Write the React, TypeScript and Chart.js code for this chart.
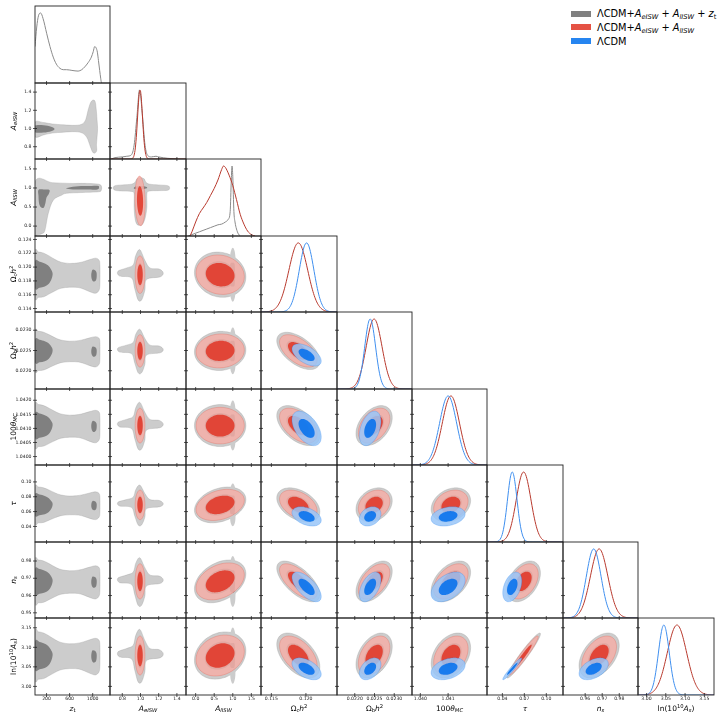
import React, { useEffect, useRef } from "react";
import { Chart, registerables } from "chart.js";

Chart.register(...registerables);

const FONT = "'DejaVu Sans', 'Liberation Sans', sans-serif";

// ---------------- axes (order: z_t, A_eISW, A_lISW, Ωch², Ωbh², 100θMC, τ, ns, ln(10^10 As)) ----------------
const PARAM_MIN = [0, 0.665, -0.26, 0.1135, 0.02155, 1.0397, 0.019, 0.947, 2.978];
const PARAM_MAX = [1300, 1.5, 1.76, 0.1245, 0.02345, 1.0424, 0.1228, 0.991, 3.175];

const X_TICKS = [
  [200, 600, 1000], [0.8, 1.0, 1.2, 1.4], [0.0, 0.5, 1.0, 1.5], [0.115, 0.12],
  [0.022, 0.0225, 0.023], [1.04, 1.041], [0.04, 0.07, 0.1], [0.96, 0.97, 0.98], [3.0, 3.05, 3.1, 3.15],
];
const X_TICK_LABELS = [
  ["200", "600", "1000"], ["0.8", "1.0", "1.2", "1.4"], ["0.0", "0.5", "1.0", "1.5"], ["0.115", "0.120"],
  ["0.0220", "0.0225", "0.0230"], ["1.040", "1.041"], ["0.04", "0.07", "0.10"], ["0.96", "0.97", "0.98"],
  ["3.00", "3.05", "3.10", "3.15"],
];
const Y_TICKS = [
  [], [0.8, 1.0, 1.2, 1.4], [0.0, 0.5, 1.0, 1.5], [0.114, 0.116, 0.118, 0.12, 0.122, 0.124],
  [0.022, 0.0225, 0.023], [1.04, 1.0405, 1.041, 1.0415, 1.042], [0.04, 0.06, 0.08, 0.1],
  [0.95, 0.96, 0.97, 0.98], [3.0, 3.05, 3.1, 3.15],
];
const Y_TICK_LABELS = [
  [], ["0.8", "1.0", "1.2", "1.4"], ["0.0", "0.5", "1.0", "1.5"],
  ["0.114", "0.116", "0.118", "0.120", "0.122", "0.124"], ["0.0220", "0.0225", "0.0230"],
  ["1.0400", "1.0405", "1.0410", "1.0415", "1.0420"], ["0.04", "0.06", "0.08", "0.10"],
  ["0.95", "0.96", "0.97", "0.98"], ["3.00", "3.05", "3.10", "3.15"],
];

type Seg = { t: string; it?: boolean; sub?: boolean; sup?: boolean };
const AXIS_TITLES: Seg[][] = [
  [{ t: "z", it: true }, { t: "t", sub: true }],
  [{ t: "A", it: true }, { t: "eISW", it: true, sub: true }],
  [{ t: "A", it: true }, { t: "lISW", it: true, sub: true }],
  [{ t: "Ω" }, { t: "c", sub: true }, { t: "h", it: true }, { t: "2", sup: true }],
  [{ t: "Ω" }, { t: "b", sub: true }, { t: "h", it: true }, { t: "2", sup: true }],
  [{ t: "100" }, { t: "θ", it: true }, { t: "MC", it: true, sub: true }],
  [{ t: "τ", it: true }],
  [{ t: "n", it: true }, { t: "s", it: true, sub: true }],
  [{ t: "ln(10" }, { t: "10", sup: true }, { t: "A", it: true }, { t: "s", it: true, sub: true }, { t: ")" }],
];

const LEGEND_LABELS: Seg[][] = [
  [{ t: "ΛCDM+" }, { t: "A", it: true }, { t: "eISW", it: true, sub: true }, { t: " + " }, { t: "A", it: true }, { t: "lISW", it: true, sub: true }, { t: " + " }, { t: "z", it: true }, { t: "t", sub: true }],
  [{ t: "ΛCDM+" }, { t: "A", it: true }, { t: "eISW", it: true, sub: true }, { t: " + " }, { t: "A", it: true }, { t: "lISW", it: true, sub: true }],
  [{ t: "ΛCDM" }],
];

// ---------------- posterior summaries (mean, sd) ----------------
const GRAY_MEAN = [null, 0.995, 0.66, 0.1189, 0.02249, 1.0411, 0.069, 0.9682, 3.079];
const GRAY_SD = [null, 0.03, 0.33, 0.00156, 0.00023, 0.000355, 0.0115, 0.0059, 0.0288];
const RED_MEAN = [null, 0.995, 0.66, 0.1189, 0.02249, 1.0411, 0.069, 0.9682, 3.079];
const RED_SD = [null, 0.027, 0.31, 0.00136, 0.0002, 0.00031, 0.01, 0.0051, 0.025];
const BLUE_MEAN = [null, null, null, 0.1201, 0.02239, 1.041, 0.0535, 0.965, 3.045];
const BLUE_SD = [null, null, null, 0.00106, 0.000137, 0.000307, 0.0065, 0.0043, 0.014];

// correlation coefficients [row param, column param, rho]
const CORR: [number, number, number][] = [
  [2, 1, -0.1],
  [3, 2, -0.1], [4, 2, 0.05], [5, 2, 0.0], [6, 2, 0.3], [7, 2, 0.35], [8, 2, 0.2],
  [4, 3, -0.55], [5, 3, -0.5], [6, 3, -0.4], [7, 3, -0.65], [8, 3, -0.5],
  [5, 4, 0.4], [6, 4, 0.25], [7, 4, 0.5], [8, 4, 0.4],
  [6, 5, 0.25], [7, 5, 0.45], [8, 5, 0.35],
  [7, 6, 0.4], [8, 6, 0.96],
  [8, 7, 0.45],
];

// ---------------- 1D marginals ----------------
const ZT_GRAY_X = [0, 30, 60, 98, 140, 202, 260, 316, 370, 431, 490, 547, 640, 747, 810, 862, 920, 977, 1010, 1034, 1060, 1081, 1100, 1121, 1140, 1150, 1160];
const ZT_GRAY_Y = [0.52, 0.8, 0.96, 1.0, 0.92, 0.71, 0.52, 0.37, 0.27, 0.21, 0.19, 0.19, 0.18, 0.17, 0.19, 0.23, 0.29, 0.37, 0.45, 0.52, 0.5, 0.44, 0.32, 0.18, 0.06, 0.01, 0];
const AE_GRAY_X = [0.68, 0.72, 0.8, 0.85, 0.9, 0.93, 0.96, 0.99, 1.02, 1.05, 1.08, 1.12, 1.17, 1.2, 1.3, 1.4];
const AE_GRAY_Y = [0, 0.02, 0.03, 0.04, 0.06, 0.2, 0.6, 1.0, 0.65, 0.2, 0.05, 0.03, 0.04, 0.03, 0.01, 0];
const AL_GRAY_X = [-0.2, -0.1, 0.0, 0.1, 0.2, 0.3, 0.4, 0.5, 0.6, 0.7, 0.8, 0.88, 0.93, 0.96, 0.98, 1.0, 1.03, 1.06, 1.1, 1.15, 1.2];
const AL_GRAY_Y = [0, 0.02, 0.04, 0.06, 0.08, 0.1, 0.12, 0.14, 0.16, 0.17, 0.2, 0.24, 0.35, 0.8, 1.0, 0.85, 0.35, 0.2, 0.1, 0.03, 0];
const AL_RED_X = [-0.15, -0.1, 0, 0.1, 0.2, 0.3, 0.4, 0.5, 0.6, 0.7, 0.75, 0.8, 0.9, 1.0, 1.1, 1.2, 1.3, 1.4, 1.5, 1.6];
const AL_RED_Y = [0, 0.06, 0.2, 0.32, 0.4, 0.48, 0.58, 0.68, 0.8, 0.95, 1.0, 0.98, 0.87, 0.72, 0.52, 0.31, 0.17, 0.07, 0.02, 0];

// ---------------- irregular gray contours ----------------
type P = [number, number];
const GRAY_ZT_AE_OUTER: P[] = [[0, 1.07], [150, 1.065], [300, 1.05], [500, 1.04], [700, 1.035], [820, 1.05], [880, 1.1], [920, 1.2], [960, 1.28], [1000, 1.31], [1040, 1.3], [1060, 1.22], [1075, 1.1], [1085, 1.0], [1075, 0.9], [1065, 0.82], [1070, 0.76], [1040, 0.73], [1000, 0.74], [960, 0.8], [900, 0.9], [820, 0.95], [700, 0.965], [500, 0.96], [300, 0.95], [150, 0.93], [0, 0.91]];
const GRAY_ZT_AE_INNER: P[] = [[0, 1.03], [150, 1.035], [280, 1.02], [340, 0.995], [280, 0.97], [150, 0.955], [0, 0.96]];
const GRAY_ZT_AL_OUTER: P[] = [[0, 1.16], [300, 1.14], [600, 1.12], [900, 1.12], [1100, 1.1], [1150, 1.05], [1150, 0.95], [1100, 0.9], [800, 0.88], [546, 0.86], [460, 0.81], [316, 0.68], [230, 0.33], [172, -0.11], [120, -0.2], [40, -0.22], [0, -0.2]];
const GRAY_ZT_AL_INNER_A: P[] = [[60, 0.95], [150, 0.96], [250, 0.95], [240, 0.85], [200, 0.75], [180, 0.6], [150, 0.48], [100, 0.5], [70, 0.6], [60, 0.8]];
const GRAY_ZT_AL_INNER_B: P[] = [[550, 1.0], [700, 1.04], [900, 1.05], [1080, 1.06], [1110, 1.02], [1080, 0.96], [900, 0.96], [700, 0.96], [560, 0.98]];
// z_t vs cosmological parameters (y in gray standard deviations from the gray mean)
const GRAY_ZT_STD_OUTER: P[] = [[0, 2.05], [60, 2.1], [150, 2.0], [250, 1.72], [350, 1.4], [450, 1.16], [600, 1.04], [750, 1.1], [850, 1.23], [950, 1.4], [1050, 1.53], [1110, 1.35], [1125, 0.84], [1125, -0.84], [1110, -1.44], [1050, -1.72], [950, -1.58], [850, -1.35], [750, -1.19], [600, -1.16], [450, -1.26], [350, -1.49], [250, -1.77], [150, -2.05], [60, -2.1], [0, -2.05]];
const GRAY_ZT_STD_INNER_L: P[] = [[0, 1.21], [80, 1.21], [170, 1.04], [240, 0.79], [295, 0.33], [305, 0], [285, -0.42], [240, -0.84], [170, -1.1], [80, -1.21], [0, -1.21]];
const GRAY_ZT_STD_INNER_R: P[] = [[1000, 0.47], [1040, 0.42], [1065, 0.23], [1070, -0.09], [1060, -0.47], [1030, -0.63], [1000, -0.58], [980, -0.33], [975, 0], [985, 0.33]];
const GRAY_AE_AL_OUTER: P[] = [[0.72, 1.06], [0.8, 1.08], [0.9, 1.1], [0.94, 1.15], [0.96, 1.24], [1.0, 1.27], [1.04, 1.24], [1.06, 1.15], [1.1, 1.1], [1.2, 1.08], [1.3, 1.06], [1.32, 1.0], [1.3, 0.94], [1.2, 0.93], [1.1, 0.92], [1.07, 0.85], [1.07, 0.5], [1.05, 0.2], [1.02, 0.04], [0.99, 0.02], [0.96, 0.05], [0.94, 0.2], [0.93, 0.5], [0.93, 0.85], [0.9, 0.91], [0.8, 0.92], [0.72, 0.94], [0.7, 1.0]];
const GRAY_AE_AL_INNER: P[] = [[0.94, 1.03], [1.0, 1.05], [1.06, 1.03], [1.07, 0.99], [1.0, 0.96], [0.93, 0.98]];
// A_eISW vs cosmological parameters (y standardized)
const GRAY_AE_STD_OUTER: P[] = [[0.993, 2.32], [1.048, 1.34], [1.104, 0.62], [1.206, 0.52], [1.25, 0.16], [1.214, -0.21], [1.067, -0.43], [1.048, -1.45], [1.012, -2.35], [0.974, -2.35], [0.937, -1.31], [0.9, -0.28], [0.771, -0.13], [0.752, 0.32], [0.846, 0.62], [0.92, 0.91], [0.948, 1.79]];
// A_lISW vs cosmological parameters: spike and strip at A_lISW ~ 1 (y standardized)
const GRAY_AL_STD_SPIKE: P[] = [[0.93, 1.7], [0.96, 2.3], [1.0, 2.5], [1.04, 2.3], [1.07, 1.7], [1.08, 0], [1.07, -1.7], [1.04, -2.3], [1.0, -2.5], [0.96, -2.3], [0.93, -1.7], [0.92, 0]];
const GRAY_AL_STD_STRIP: P[] = [[0.93, 0.95], [1.0, 1.1], [1.05, 0.95], [1.06, 0], [1.05, -0.95], [1.0, -1.1], [0.93, -0.95], [0.92, 0]];

// ---------------- styling ----------------
const MODELS = [
  { mean: GRAY_MEAN, sd: GRAY_SD, inner: "rgb(128,128,128)", outer: "rgb(204,204,204)", edge: "rgba(150,150,150,0.5)", line: "#8a8a8a" },
  { mean: RED_MEAN, sd: RED_SD, inner: "rgba(224,52,36,0.85)", outer: "rgba(243,174,167,0.85)", edge: "rgba(224,52,36,0.35)", line: "#b8392d" },
  { mean: BLUE_MEAN, sd: BLUE_SD, inner: "rgba(0,111,237,0.85)", outer: "rgba(153,197,248,0.85)", edge: "rgba(0,111,237,0.35)", line: "#3f8fef" },
];

const N = 9;
const X_EDGES = Array.from({ length: N + 1 }, (_, k) => Math.round(35 + k * 75.4));
const Y_EDGES = Array.from({ length: N + 1 }, (_, k) => Math.round(6 + k * 76.55));

// contour radii (in sd units) of the inner and outer filled levels
function radii(row: number, col: number): [number, number] {
  return row === 2 || col === 2 ? [1.25, 2.1] : [1.1, 2.0];
}

function corr(a: number, b: number) {
  for (const [i, j, r] of CORR) if ((i === a && j === b) || (i === b && j === a)) return r;
  return 0;
}

function ellipse(mx: number, my: number, sx: number, sy: number, rho: number, r: number): P[] {
  const pts: P[] = [];
  const c = Math.sqrt(1 - rho * rho);
  for (let k = 0; k < 48; k++) {
    const t = (2 * Math.PI * k) / 48;
    const u = r * Math.cos(t);
    const w = r * Math.sin(t);
    pts.push([mx + sx * u, my + sy * (rho * u + c * w)]);
  }
  return pts;
}

function gaussCurve(m: number, s: number, lo: number, hi: number) {
  const out: { x: number; y: number }[] = [];
  for (let k = 0; k <= 120; k++) {
    const x = lo + ((hi - lo) * k) / 120;
    out.push({ x, y: Math.exp(-0.5 * ((x - m) / s) ** 2) });
  }
  return out;
}

function zip(xs: number[], ys: number[]) {
  return xs.map((x, i) => ({ x, y: ys[i] }));
}

function buildDatasets(row: number, col: number) {
  const ds: any[] = [];
  if (row === col) {
    const lines: { data: { x: number; y: number }[]; m: number }[] = [];
    if (col === 0) lines.push({ data: zip(ZT_GRAY_X, ZT_GRAY_Y), m: 0 });
    else if (col === 1) {
      lines.push({ data: zip(AE_GRAY_X, AE_GRAY_Y), m: 0 });
      lines.push({ data: gaussCurve(RED_MEAN[1]!, RED_SD[1]!, PARAM_MIN[1], PARAM_MAX[1]), m: 1 });
    } else if (col === 2) {
      lines.push({ data: zip(AL_GRAY_X, AL_GRAY_Y), m: 0 });
      lines.push({ data: zip(AL_RED_X, AL_RED_Y), m: 1 });
    } else {
      for (let m = 1; m < 3; m++) {
        const md = MODELS[m];
        lines.push({ data: gaussCurve(md.mean[col]!, md.sd[col]!, PARAM_MIN[col], PARAM_MAX[col]), m });
      }
    }
    for (const l of lines) {
      ds.push({
        type: "line",
        data: l.data,
        yAxisID: "yd",
        borderColor: MODELS[l.m].line,
        borderWidth: 1,
        pointRadius: 0,
        fill: false,
        cubicInterpolationMode: "monotone",
        order: 3 - l.m,
      });
    }
    return ds;
  }
  const [rIn, rOut] = radii(row, col);
  const poly = (pts: P[], fill: string, edge?: string) =>
    ds.push({ type: "scatter", data: pts.map(([x, y]) => ({ x, y })), pointRadius: 0, showLine: false, polyFill: fill, polyEdge: edge });
  const std = (pts: P[]) => pts.map(([x, v]) => [x, GRAY_MEAN[row]! + v * GRAY_SD[row]!] as P);
  const g = MODELS[0];
  if (col === 0) {
    if (row === 1) {
      poly(GRAY_ZT_AE_OUTER, g.outer, g.edge);
      poly(GRAY_ZT_AE_INNER, g.inner);
    } else if (row === 2) {
      poly(GRAY_ZT_AL_OUTER, g.outer, g.edge);
      poly(GRAY_ZT_AL_INNER_A, g.inner);
      poly(GRAY_ZT_AL_INNER_B, g.inner);
    } else {
      poly(std(GRAY_ZT_STD_OUTER), g.outer, g.edge);
      poly(std(GRAY_ZT_STD_INNER_L), g.inner);
      poly(std(GRAY_ZT_STD_INNER_R), g.inner);
    }
  } else if (col === 1 && row === 2) {
    poly(GRAY_AE_AL_OUTER, g.outer, g.edge);
    poly(GRAY_AE_AL_INNER, g.inner);
  } else {
    const rho = corr(row, col);
    const eOut = ellipse(g.mean[col]!, g.mean[row]!, g.sd[col]!, g.sd[row]!, rho, rOut);
    const eIn = ellipse(g.mean[col]!, g.mean[row]!, g.sd[col]!, g.sd[row]!, rho, rIn);
    if (col === 1) {
      poly(std(GRAY_AE_STD_OUTER), g.outer, g.edge);
      poly(eIn, g.inner);
    } else if (col === 2) {
      poly(eOut, g.outer, g.edge);
      poly(std(GRAY_AL_STD_SPIKE), g.outer);
      poly(eIn, g.inner);
      poly(std(GRAY_AL_STD_STRIP), g.inner);
    } else {
      poly(eOut, g.outer, g.edge);
      poly(eIn, g.inner);
    }
  }
  for (let m = 1; m < 3; m++) {
    const md = MODELS[m];
    if (md.mean[col] == null || md.mean[row] == null) continue;
    const rho = corr(row, col);
    poly(ellipse(md.mean[col]!, md.mean[row]!, md.sd[col]!, md.sd[row]!, rho, rOut), md.outer, md.edge);
    poly(ellipse(md.mean[col]!, md.mean[row]!, md.sd[col]!, md.sd[row]!, rho, rIn), md.inner);
  }
  return ds;
}

function closedPath(ctx: CanvasRenderingContext2D, p: P[]) {
  const n = p.length;
  ctx.moveTo(p[0][0], p[0][1]);
  for (let i = 0; i < n; i++) {
    const p0 = p[(i - 1 + n) % n], p1 = p[i], p2 = p[(i + 1) % n], p3 = p[(i + 2) % n];
    ctx.bezierCurveTo(
      p1[0] + (p2[0] - p0[0]) / 6, p1[1] + (p2[1] - p0[1]) / 6,
      p2[0] - (p3[0] - p1[0]) / 6, p2[1] - (p3[1] - p1[1]) / 6,
      p2[0], p2[1]
    );
  }
  ctx.closePath();
}

function drawRich(ctx: CanvasRenderingContext2D, segs: Seg[], cx: number, cy: number, size: number, rotate: boolean) {
  ctx.save();
  ctx.translate(cx, cy);
  if (rotate) ctx.rotate(-Math.PI / 2);
  const fontOf = (s: Seg) => `${s.it ? "italic " : ""}${s.sub || s.sup ? size * 0.7 : size}px ${FONT}`;
  let total = 0;
  const widths = segs.map((s) => {
    ctx.font = fontOf(s);
    const w = ctx.measureText(s.t).width;
    total += w;
    return w;
  });
  let x = -total / 2;
  ctx.fillStyle = "#000";
  ctx.textBaseline = "alphabetic";
  ctx.textAlign = "left";
  const base = size * 0.36;
  segs.forEach((s, i) => {
    ctx.font = fontOf(s);
    const dy = s.sub ? size * 0.22 : s.sup ? -size * 0.42 : 0;
    ctx.fillText(s.t, x, base + dy);
    x += widths[i];
  });
  ctx.restore();
}

const polyPlugin = {
  id: "polyFill",
  beforeDatasetsDraw(chart: any) {
    const { ctx, chartArea: a } = chart;
    ctx.save();
    ctx.beginPath();
    ctx.rect(a.left, a.top, a.right - a.left, a.bottom - a.top);
    ctx.clip();
    chart.data.datasets.forEach((ds: any, i: number) => {
      if (!ds.polyFill) return;
      const meta = chart.getDatasetMeta(i);
      const pts: P[] = meta.data.map((pt: any) => [pt.x, pt.y]);
      if (pts.length < 3) return;
      ctx.beginPath();
      closedPath(ctx, pts);
      ctx.fillStyle = ds.polyFill;
      ctx.fill();
      if (ds.polyEdge) {
        ctx.strokeStyle = ds.polyEdge;
        ctx.lineWidth = 0.6;
        ctx.stroke();
      }
    });
    ctx.restore();
  },
};

function Panel({ row, col }: { row: number; col: number }) {
  const ref = useRef<HTMLCanvasElement>(null);
  const ML = col === 0 ? 35 : 4;
  const MB = row === N - 1 ? 25 : 4;
  const MT = 2;
  const MR = 2;
  const pw = X_EDGES[col + 1] - X_EDGES[col];
  const ph = Y_EDGES[row + 1] - Y_EDGES[row];
  const W = ML + pw + MR;
  const H = MT + ph + MB;
  const left = X_EDGES[col] - ML;
  const top = Y_EDGES[row] - MT;

  useEffect(() => {
    const isDiag = row === col;
    const showX = row === N - 1;
    const showY = col === 0 && row > 0;
    const yId = isDiag ? "yp" : "y";
    const scales: any = {
      x: {
        type: "linear",
        position: "bottom",
        min: PARAM_MIN[col],
        max: PARAM_MAX[col],
        afterBuildTicks: (s: any) => {
          s.ticks = X_TICKS[col].map((v) => ({ value: v }));
        },
        afterFit: (s: any) => {
          s.height = MB;
          s.paddingLeft = 0;
          s.paddingRight = 0;
        },
        ticks: {
          display: showX,
          autoSkip: false,
          maxRotation: 0,
          minRotation: 0,
          padding: 1.5,
          color: "#222",
          font: { size: 4.6, family: FONT },
          callback: (_v: any, i: number) => X_TICK_LABELS[col][i] ?? "",
        },
        grid: { display: false, drawTicks: false },
        border: { display: false },
      },
      [yId]: {
        type: "linear",
        position: "left",
        min: PARAM_MIN[row],
        max: PARAM_MAX[row],
        afterBuildTicks: (s: any) => {
          s.ticks = Y_TICKS[row].map((v) => ({ value: v }));
        },
        afterFit: (s: any) => {
          s.width = ML;
          s.paddingTop = 0;
          s.paddingBottom = 0;
        },
        ticks: {
          display: showY,
          autoSkip: false,
          padding: 3.5,
          color: "#222",
          font: { size: 4.6, family: FONT },
          callback: (_v: any, i: number) => Y_TICK_LABELS[row][i] ?? "",
        },
        grid: { display: false, drawTicks: false },
        border: { display: false },
      },
    };
    if (isDiag) scales.yd = { type: "linear", display: false, min: 0, max: 1.1 };

    const framePlugin = {
      id: "frame",
      afterDraw(chart: any) {
        const { ctx, chartArea: a } = chart;
        ctx.save();
        ctx.strokeStyle = "#111";
        ctx.lineWidth = 0.7;
        const xs = chart.scales.x;
        ctx.beginPath();
        for (const t of xs.ticks) {
          const px = xs.getPixelForValue(t.value);
          ctx.moveTo(px, a.bottom - 2);
          ctx.lineTo(px, a.bottom + 2);
        }
        const ys = chart.scales[yId];
        for (const t of ys.ticks) {
          const py = ys.getPixelForValue(t.value);
          ctx.moveTo(a.left - 2, py);
          ctx.lineTo(a.left + 2, py);
        }
        ctx.stroke();
        ctx.strokeStyle = "#222";
        ctx.lineWidth = 0.9;
        ctx.strokeRect(a.left, a.top, a.right - a.left, a.bottom - a.top);
        if (showX) drawRich(ctx, AXIS_TITLES[col], (a.left + a.right) / 2, a.bottom + 13, 7.5, false);
        if (showY) drawRich(ctx, AXIS_TITLES[row], 13, (a.top + a.bottom) / 2, 7.5, true);
        ctx.restore();
      },
    };

    const chart = new Chart(ref.current as HTMLCanvasElement, {
      type: "scatter",
      data: { datasets: buildDatasets(row, col) },
      options: {
        responsive: false,
        animation: false,
        events: [],
        layout: { padding: { left: 0, right: MR, top: MT, bottom: 0 } },
        plugins: { legend: { display: false }, tooltip: { enabled: false } },
        scales,
      } as any,
      plugins: [polyPlugin, framePlugin],
    } as any);
    return () => chart.destroy();
  }, [row, col]);

  return (
    <canvas
      ref={ref}
      width={W}
      height={H}
      style={{ position: "absolute", left, top, width: W, height: H }}
    />
  );
}

function RichSpan({ segs }: { segs: Seg[] }) {
  return (
    <span style={{ whiteSpace: "nowrap" }}>
      {segs.map((s, i) => (
        <span
          key={i}
          style={{
            fontStyle: s.it ? "italic" : "normal",
            fontSize: s.sub || s.sup ? "0.68em" : "1em",
            verticalAlign: s.sub ? "-0.25em" : s.sup ? "0.45em" : "baseline",
            lineHeight: 0,
            whiteSpace: "pre",
          }}
        >
          {s.t}
        </span>
      ))}
    </span>
  );
}

const LEGEND_COLORS = ["rgb(128,128,128)", "rgb(229,82,68)", "rgb(38,133,240)"];

function Legend() {
  return (
    <div style={{ position: "absolute", left: 571, top: 7, fontFamily: FONT, fontSize: 9.8, color: "#000" }}>
      {LEGEND_LABELS.map((segs, i) => (
        <div key={i} style={{ display: "flex", alignItems: "center", height: 13.65 }}>
          <span style={{ display: "inline-block", width: 20, height: 6, background: LEGEND_COLORS[i], marginRight: 6, flex: "none" }} />
          <RichSpan segs={segs} />
        </div>
      ))}
    </div>
  );
}

export default function App() {
  const panels: React.ReactNode[] = [];
  for (let r = 0; r < N; r++) for (let c = 0; c <= r; c++) panels.push(<Panel key={`${r}-${c}`} row={r} col={c} />);
  return (
    <div style={{ position: "absolute", left: 0, top: 0, width: 720, height: 720, background: "#fff", overflow: "hidden" }}>
      {panels}
      <Legend />
    </div>
  );
}
